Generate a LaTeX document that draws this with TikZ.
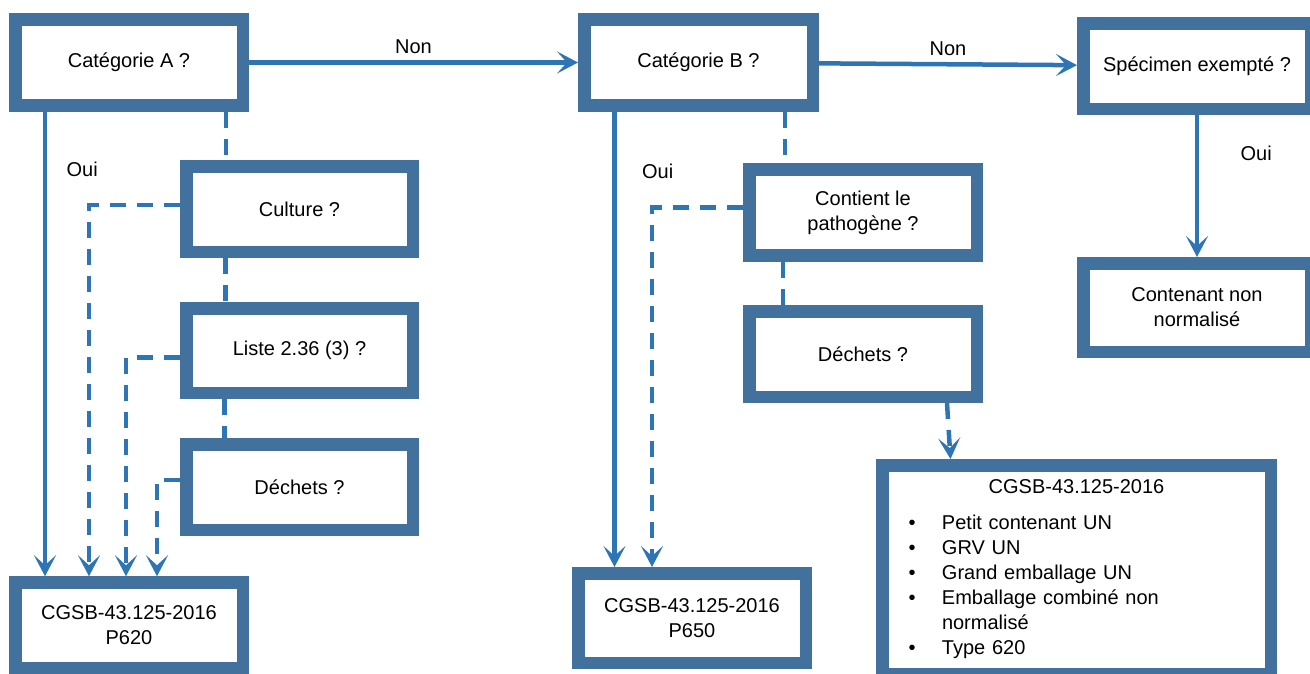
\documentclass[tikz,border=0pt]{standalone}
\usepackage{fontspec}
\setmainfont{Liberation Sans}
\usetikzlibrary{arrows.meta}

\definecolor{boxblue}{RGB}{65,113,156}
\definecolor{arrowblue}{RGB}{46,117,182}

\newcommand{\puce}{\hspace*{20pt}\makebox[33.5pt][l]{\textbullet}}

\begin{document}
\begin{tikzpicture}[x=1pt, y=-1pt, font=\fontsize{20}{25}\selectfont,
    box/.style={draw=boxblue, line width=12.5pt, fill=white, minimum width=227.5pt, minimum height=86pt, align=center},
    flow/.style={draw=arrowblue, line width=4.5pt, -{Stealth[length=21pt,width=22pt,inset=10pt]}},
    dflow/.style={flow, dash pattern=on 16pt off 11pt},
    link/.style={draw=arrowblue, line width=4.5pt, dash pattern=on 16pt off 11pt}]

    \useasboundingbox (0,0) rectangle (1310,673);

    % categorie A
    \node[box] at (129, 62.5) (catA) {Catégorie A ?};
    \node[box, minimum width=226.5pt, minimum height=85.5pt] at (299.5, 209) (culture) {Culture ?};
    \node[box, minimum width=226.5pt, minimum height=84.5pt] at (299.5, 350.5) (liste) {Liste 2.36 (3) ?};
    \node[box, minimum width=226.5pt, minimum height=85.5pt] at (299.5, 487) (dechA) {Déchets ?};
    \node[box] at (129, 625.5) (p620) {CGSB-43.125-2016\\P620};

    % categorie B
    \node[box, minimum width=228.5pt] at (698.5, 62.5) (catB) {Catégorie B ?};
    \node[box] at (863, 212.5) (contient) {Contient le\\pathogène ?};
    \node[box, minimum height=85.5pt] at (863, 354) (dechB) {Déchets ?};
    \node[box, minimum height=89.5pt] at (692, 618) (p650) {CGSB-43.125-2016\\P650};
    \node[box, minimum width=388.5pt, minimum height=208.5pt, inner xsep=0pt, text width=376pt, align=left] at (1076.5, 569.5) (codeB)
        {\makebox[\linewidth]{CGSB-43.125-2016}\\[11pt]
         \puce Petit contenant UN\\
         \puce GRV UN\\
         \puce Grand emballage UN\\
         \puce Emballage combiné non\\
         \hspace*{53.5pt}normalisé\\
         \puce Type 620};

    % specimen exempte
    \node[box, minimum height=85.5pt] at (1197, 66) (specimen) {Spécimen exempté ?};
    \node[box, minimum height=88.5pt] at (1197, 307.5) (contenant) {Contenant non\\normalisé};

    % Non
    \draw[flow] (catA) -- node[above=3pt] {Non} (catB);
    \draw[flow] (catB) -- node[above=3pt] {Non} (specimen);

    % Oui
    \draw[flow] ([xshift=-84pt]catA.south) -- node[pos=0.125, right=16pt] {Oui} ([xshift=-84pt]p620.north);
    \draw[flow] ([xshift=-84pt]catB.south) -- node[pos=0.13, right=22pt] {Oui} ([xshift=-84pt]catB.south |- p650.north);
    \draw[flow] (specimen) -- node[pos=0.27, right=38pt] {Oui} (contenant);

    % questions A
    \draw[link] ([xshift=97pt]catA.south) -- ([xshift=-73.5pt]culture.north);
    \draw[link] ([xshift=-74pt]culture.south) -- ([xshift=-74pt]liste.north);
    \draw[link] ([xshift=-75pt]liste.south) -- ([xshift=-75pt]dechA.north);
    \draw[dflow] ([yshift=4pt]culture.west) -| ([xshift=-40pt]p620.north);
    \draw[dflow] ([yshift=-7pt]liste.west) -| ([xshift=-3pt]p620.north);
    \draw[dflow] ([yshift=7pt]dechA.west) -| ([xshift=28pt]p620.north);

    % questions B
    \draw[link] ([xshift=86.5pt]catB.south) -- ([xshift=-78pt]contient.north);
    \draw[link] ([xshift=-80pt]contient.south) -- ([xshift=-80pt]dechB.north);
    \draw[dflow] ([yshift=5pt]contient.west) -| ([xshift=-40pt]p650.north);
    \draw[dflow] ([xshift=84pt]dechB.south) -- ([xshift=-126pt]codeB.north);
\end{tikzpicture}
\end{document}
